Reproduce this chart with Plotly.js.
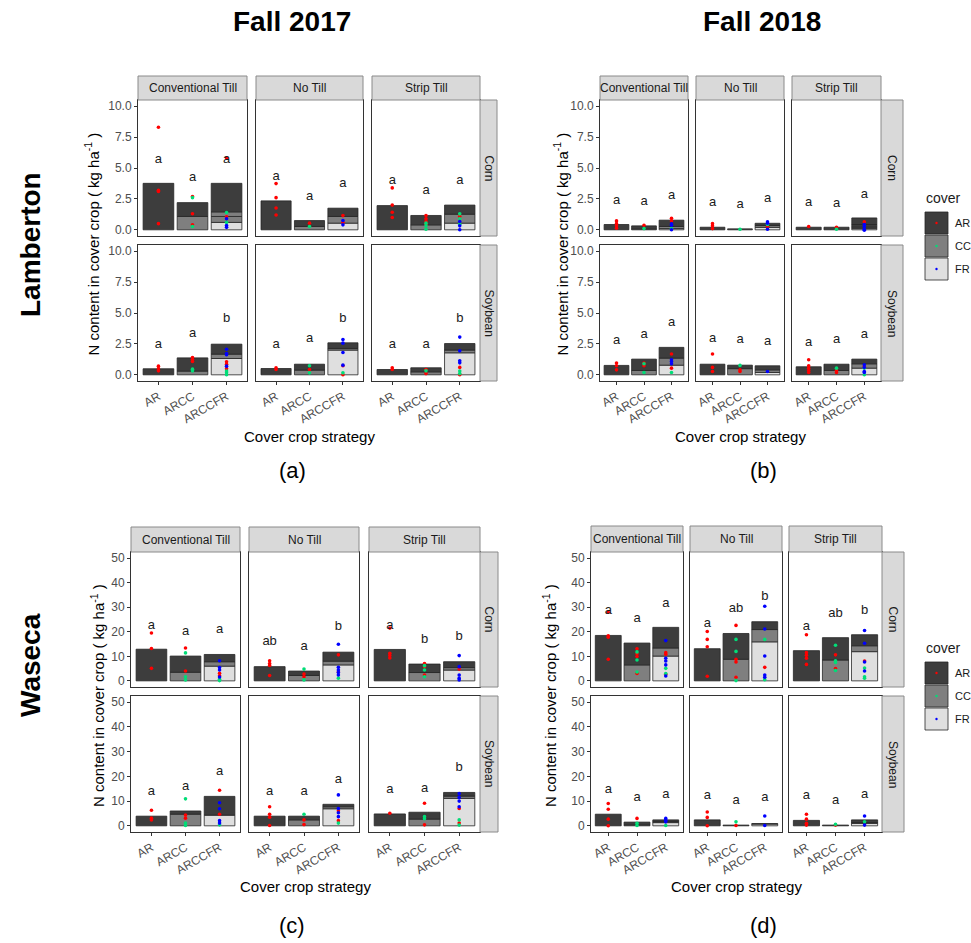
<!DOCTYPE html>
<html>
<head>
<meta charset="utf-8">
<script src="https://cdn.plot.ly/plotly-3.0.1.min.js"></script>
<style>
  html, body { margin: 0; padding: 0; background: #ffffff; }
  #chart { width: 971px; height: 943px; }
</style>
</head>
<body>
<div id="chart"></div>
<script>
// Facet factors
const tills = ['Conventional Till', 'No Till', 'Strip Till'];
const crops = ['Corn', 'Soybean'];
const strategies = ['AR', 'ARCC', 'ARCCFR'];
const covers = ['AR', 'CC', 'FR'];

// Bars: [crop][till][strategy] -> stacked segments from the ground up, [cover, N kg/ha]
const lam17Bars = [
  [
    [[['AR', 3.76]], [['CC', 1.08], ['AR', 1.12]], [['FR', 0.6], ['CC', 0.48], ['CC', 0.37], ['AR', 2.31]]],
    [[['AR', 2.34]], [['CC', 0.27], ['AR', 0.48]], [['FR', 0.54], ['CC', 0.54], ['AR', 0.67]]],
    [[['AR', 1.96]], [['CC', 0.4], ['AR', 0.76]], [['FR', 0.54], ['CC', 0.72], ['AR', 0.74]]]
  ],
  [
    [[['AR', 0.49]], [['CC', 0.3], ['AR', 1.07]], [['FR', 1.32], ['CC', 0.35], ['AR', 0.81]]],
    [[['AR', 0.51]], [['CC', 0.38], ['AR', 0.48]], [['FR', 2.0], ['CC', 0.13], ['AR', 0.46]]],
    [[['AR', 0.43]], [['CC', 0.24], ['AR', 0.33]], [['FR', 1.78], ['CC', 0.22], ['AR', 0.53]]]
  ]
];
const lam18Bars = [
  [
    [[['AR', 0.43]], [['CC', 0.08], ['AR', 0.24]], [['FR', 0.1], ['CC', 0.17], ['AR', 0.51]]],
    [[['AR', 0.21]], [['AR', 0.08]], [['FR', 0.2], ['CC', 0.15], ['AR', 0.18]]],
    [[['AR', 0.21]], [['AR', 0.21]], [['FR', 0.1], ['CC', 0.11], ['AR', 0.22], ['AR', 0.53]]]
  ],
  [
    [[['AR', 0.76]], [['CC', 0.35], ['AR', 0.92]], [['FR', 0.78], ['CC', 0.57], ['AR', 0.87]]],
    [[['AR', 0.86]], [['CC', 0.5], ['AR', 0.28]], [['FR', 0.19], ['CC', 0.21], ['AR', 0.33]]],
    [[['AR', 0.65]], [['CC', 0.35], ['AR', 0.51]], [['FR', 0.54], ['CC', 0.35], ['AR', 0.38]]]
  ]
];
const was17Bars = [
  [
    [[['AR', 12.9]], [['CC', 3.5], ['AR', 6.6]], [['FR', 6.0], ['CC', 1.8], ['AR', 2.95]]],
    [[['AR', 5.8]], [['CC', 2.2], ['AR', 1.8]], [['FR', 6.5], ['CC', 1.5], ['AR', 3.7]]],
    [[['AR', 12.8]], [['CC', 3.4], ['AR', 3.45]], [['FR', 4.4], ['CC', 1.0], ['AR', 2.4]]]
  ],
  [
    [[['AR', 3.9]], [['CC', 4.7], ['AR', 1.3]], [['FR', 4.3], ['AR', 7.6]]],
    [[['AR', 3.9]], [['CC', 2.4], ['AR', 1.5]], [['FR', 6.9], ['CC', 0.8], ['AR', 1.0]]],
    [[['AR', 4.8]], [['CC', 2.7], ['AR', 2.8]], [['FR', 11.1], ['CC', 0.9], ['AR', 1.5]]]
  ]
];
const was18Bars = [
  [
    [[['AR', 18.5]], [['CC', 6.5], ['AR', 8.9]], [['FR', 10.1], ['CC', 3.3], ['AR', 8.4]]],
    [[['AR', 13.1]], [['CC', 8.8], ['AR', 10.5]], [['FR', 15.9], ['CC', 5.0], ['AR', 3.2]]],
    [[['AR', 12.3]], [['CC', 8.5], ['AR', 9.1]], [['FR', 11.9], ['CC', 2.4], ['AR', 4.5]]]
  ],
  [
    [[['AR', 4.7]], [['CC', 0.4], ['AR', 1.1]], [['FR', 1.3], ['CC', 0.4], ['AR', 0.7]]],
    [[['AR', 2.4]], [['AR', 0.3]], [['FR', 0.7], ['AR', 0.2]]],
    [[['AR', 2.2]], [['AR', 0.3]], [['FR', 1.0], ['CC', 0.3], ['AR', 1.1]]]
  ]
];

// Plot-level observations: [crop][till][strategy] -> [cover, N kg/ha]
const lam17Points = [
  [
    [[['AR', 8.3], ['AR', 3.2], ['AR', 3.1], ['AR', 0.5]],
     [['AR', 2.7], ['CC', 2.6], ['AR', 1.3], ['AR', 0.4], ['CC', 0.27]],
     [['AR', 5.8], ['CC', 1.4], ['AR', 1.05], ['FR', 0.9], ['CC', 0.6], ['FR', 0.35], ['FR', 0.2]]],
    [[['AR', 3.74], ['AR', 2.6], ['AR', 1.77], ['AR', 1.2]],
     [['AR', 0.54], ['CC', 0.27]],
     [['AR', 1.15], ['FR', 0.75], ['AR', 0.6], ['FR', 0.4]]],
    [[['AR', 3.39], ['AR', 2.0], ['AR', 1.42], ['AR', 1.0]],
     [['AR', 1.15], ['AR', 0.9], ['AR', 0.67], ['AR', 0.45], ['CC', 0.54], ['CC', 0.32], ['CC', 0.05]],
     [['CC', 1.29], ['AR', 1.08], ['CC', 0.9], ['FR', 0.67], ['CC', 0.45], ['FR', 0.32], ['FR', 0.0]]]
  ],
  [
    [[['AR', 0.7], ['AR', 0.5], ['AR', 0.32]],
     [['AR', 1.4], ['AR', 1.24], ['AR', 1.08], ['CC', 0.46], ['CC', 0.32]],
     [['FR', 2.07], ['FR', 1.72], ['FR', 1.62], ['AR', 1.05], ['AR', 0.86], ['FR', 0.7], ['AR', 0.5], ['CC', 0.3], ['CC', 0.16], ['CC', 0.0]]],
    [[['AR', 0.57], ['AR', 0.43]],
     [['CC', 0.73], ['AR', 0.43], ['CC', 0.16]],
     [['FR', 2.86], ['FR', 2.56], ['FR', 1.8], ['FR', 0.78], ['AR', 0.73], ['CC', 0.16], ['AR', 0.0]]],
    [[['AR', 0.57], ['AR', 0.43]],
     [['AR', 0.43], ['CC', 0.32], ['AR', 0.1]],
     [['FR', 3.05], ['FR', 1.94], ['FR', 1.13], ['FR', 0.97], ['AR', 0.6], ['CC', 0.3], ['CC', 0.1], ['AR', 0.0]]]
  ]
];
const lam18Points = [
  [
    [[['AR', 0.72], ['AR', 0.5], ['AR', 0.32], ['AR', 0.13]],
     [['AR', 0.37], ['CC', 0.1]],
     [['AR', 0.94], ['AR', 0.72], ['FR', 0.48], ['FR', 0.37], ['CC', 0.1], ['FR', 0.0]]],
    [[['AR', 0.5], ['AR', 0.32], ['AR', 0.1]],
     [['CC', 0.05]],
     [['FR', 0.64], ['FR', 0.53], ['CC', 0.43], ['AR', 0.27], ['FR', 0.05]]],
    [[['AR', 0.27]],
     [['AR', 0.21], ['CC', 0.05]],
     [['AR', 0.64], ['FR', 0.43], ['FR', 0.27], ['FR', 0.05], ['FR', -0.03]]]
  ],
  [
    [[['AR', 0.95], ['AR', 0.73], ['AR', 0.4]],
     [['AR', 0.95], ['CC', 0.9], ['AR', 0.73], ['CC', 0.19]],
     [['AR', 1.68], ['FR', 1.22], ['FR', 1.08], ['FR', 0.89], ['AR', 0.54], ['CC', 0.19]]],
    [[['AR', 1.68], ['AR', 0.6], ['AR', 0.27]],
     [['CC', 0.76], ['AR', 0.4], ['AR', 0.27]],
     [['FR', 0.27]]],
    [[['AR', 1.22], ['AR', 0.73], ['AR', 0.54], ['AR', 0.35], ['AR', 0.19]],
     [['CC', 0.54], ['AR', 0.35], ['AR', 0.19]],
     [['FR', 0.81], ['AR', 0.68], ['FR', 0.59], ['CC', 0.54], ['FR', 0.27], ['FR', 0.19], ['CC', 0.0]]]
  ]
];
const was17Points = [
  [
    [[['AR', 19.5], ['AR', 13.2], ['AR', 5.1]],
     [['AR', 13.4], ['CC', 11.4], ['AR', 4.0], ['CC', 1.7], ['CC', 0.4]],
     [['FR', 8.2], ['FR', 5.4], ['FR', 4.4], ['AR', 3.1], ['AR', 2.1], ['FR', 1.6], ['CC', 0.7], ['CC', 0.1]]],
    [[['AR', 8.2], ['AR', 7.1], ['AR', 6.3], ['AR', 2.2]],
     [['CC', 4.8], ['AR', 2.8], ['AR', 1.7], ['CC', 0.4]],
     [['FR', 14.9], ['AR', 10.6], ['FR', 5.5], ['FR', 4.4], ['AR', 3.6], ['FR', 3.4], ['FR', 2.4], ['CC', 1.1]]],
    [[['AR', 21.5], ['AR', 11.2], ['AR', 10.3], ['AR', 9.3]],
     [['AR', 7.1], ['CC', 6.2], ['AR', 5.8], ['CC', 4.4], ['AR', 2.4], ['CC', 1.7]],
     [['FR', 10.3], ['FR', 5.8], ['AR', 4.8], ['FR', 2.4], ['FR', 1.1], ['FR', 0.4]]]
  ],
  [
    [[['AR', 6.3], ['AR', 3.1], ['AR', 2.4]],
     [['CC', 10.9], ['AR', 4.4], ['AR', 3.1], ['CC', 1.1], ['CC', 0.1]],
     [['AR', 14.4], ['FR', 9.3], ['FR', 6.9], ['AR', 4.7], ['FR', 2.1], ['FR', 1.1], ['CC', 0.4]]],
    [[['AR', 7.7], ['AR', 4.7], ['AR', 3.5], ['AR', 0.1]],
     [['CC', 4.7], ['AR', 2.4], ['AR', 0.5]],
     [['FR', 12.5], ['FR', 7.0], ['AR', 6.1], ['FR', 5.3], ['FR', 3.7], ['AR', 2.1], ['CC', 1.1]]],
    [[['AR', 5.1]],
     [['AR', 9.1], ['CC', 3.7], ['CC', 2.9], ['AR', 0.4]],
     [['FR', 13.0], ['FR', 11.5], ['FR', 10.0], ['FR', 7.7], ['AR', 7.0], ['CC', 2.4], ['AR', 1.1], ['CC', 0.3]]]
  ]
];
const was18Points = [
  [
    [[['AR', 28.0], ['AR', 18.4], ['AR', 17.8], ['AR', 8.8]],
     [['AR', 13.1], ['CC', 11.8], ['AR', 11.0], ['AR', 9.9], ['CC', 8.5], ['CC', 3.6], ['AR', 3.0]],
     [['FR', 16.4], ['AR', 11.5], ['AR', 10.8], ['FR', 9.2], ['FR', 8.1], ['FR', 6.5], ['CC', 5.1], ['CC', 3.0], ['AR', 2.7], ['FR', 2.0]]],
    [[['AR', 20.1], ['AR', 16.9], ['AR', 13.9], ['AR', 1.9]],
     [['AR', 22.6], ['CC', 16.9], ['CC', 12.0], ['AR', 8.8], ['AR', 7.7], ['AR', 1.5], ['CC', 0.1]],
     [['FR', 30.4], ['FR', 21.1], ['CC', 16.9], ['FR', 10.1], ['AR', 5.5], ['FR', 2.4], ['FR', 1.5], ['CC', 0.5]]],
    [[['AR', 18.8], ['AR', 11.5], ['AR', 10.4], ['AR', 9.2], ['AR', 6.7]],
     [['CC', 14.5], ['AR', 10.6], ['CC', 8.2], ['CC', 7.5], ['AR', 5.0], ['CC', 4.2]],
     [['FR', 20.5], ['FR', 15.3], ['AR', 8.1], ['FR', 7.7], ['CC', 5.2], ['FR', 4.0], ['CC', 1.7], ['CC', 1.1]]]
  ],
  [
    [[['AR', 9.0], ['AR', 6.7], ['AR', 2.7], ['AR', 0.0]],
     [['AR', 3.0], ['CC', 1.0], ['CC', 0.1]],
     [['FR', 3.0], ['FR', 2.3], ['FR', 1.6], ['CC', 0.1]]],
    [[['AR', 5.6], ['AR', 3.4], ['AR', 0.0]],
     [['CC', 1.6], ['AR', 0.1]],
     [['FR', 4.0], ['FR', 0.1]]],
    [[['AR', 4.7], ['AR', 2.7], ['AR', 1.0], ['AR', 0.3]],
     [['CC', 0.6], ['AR', 0.3]],
     [['FR', 4.0], ['CC', 1.6], ['FR', 0.3]]]
  ]
];

// Mean-separation letters: [crop][till][strategy] -> [letter, height]
const lam17Letters = [
  [[['a', 5.7], ['a', 4.2], ['a', 5.7]], [['a', 4.3], ['a', 2.7], ['a', 3.7]], [['a', 3.95], ['a', 3.17], ['a', 4.0]]],
  [[['a', 2.45], ['a', 3.34], ['b', 4.5]], [['a', 2.45], ['a', 2.88], ['b', 4.55]], [['a', 2.45], ['a', 2.45], ['b', 4.5]]]
];
const lam18Letters = [
  [[['a', 2.33], ['a', 2.27], ['a', 2.73]], [['a', 2.19], ['a', 2.0], ['a', 2.51]], [['a', 2.19], ['a', 2.14], ['a', 2.86]]],
  [[['a', 2.76], ['a', 3.22], ['a', 4.19]], [['a', 2.89], ['a', 2.84], ['a', 2.7]], [['a', 2.62], ['a', 2.84], ['a', 3.24]]]
];
const was17Letters = [
  [[['a', 22.6], ['a', 19.9], ['a', 20.8]], [['ab', 16.1], ['a', 14.1], ['b', 21.9]], [['a', 22.6], ['b', 16.8], ['b', 17.9]]],
  [[['a', 13.7], ['a', 15.7], ['a', 21.7]], [['a', 13.7], ['a', 13.7], ['a', 18.8]], [['a', 14.7], ['a', 15.1], ['b', 23.5]]]
];
const was18Letters = [
  [[['a', 28.5], ['a', 25.4], ['a', 31.5]], [['a', 23.2], ['ab', 29.5], ['b', 34.2]], [['a', 22.0], ['ab', 27.4], ['b', 28.5]]],
  [[['a', 14.6], ['a', 11.3], ['a', 12.4]], [['a', 12.1], ['a', 10.3], ['a', 11.2]], [['a', 12.1], ['a', 10.3], ['a', 12.4]]]
];

const smallTicks = [0, 2.5, 5, 7.5, 10];
const smallTickText = ['0.0', '2.5', '5.0', '7.5', '10.0'];
const bigTicks = [0, 10, 20, 30, 40, 50];
const bigTickText = ['0', '10', '20', '30', '40', '50'];

// ---- styling ----
const W = 971, H = 943;
const fillOf = { AR: '#3d3d3d', CC: '#7f7f7f', FR: '#dfdfdf' };
const dotOf = { AR: '#ff0000', CC: '#00dd77', FR: '#0000ff' };
const FONT = 'Liberation Sans, Arial, sans-serif';
const px = v => v / W;
const py = v => 1 - v / H;

// paper-positioned text, centred on (x, y) in pixels unless told otherwise
const label = (text, x, y, size, opts) => Object.assign({
  xref: 'paper', yref: 'paper', showarrow: false, x: px(x), y: py(y),
  xanchor: 'center', yanchor: 'middle', text: text,
  font: { family: FONT, size: size, color: '#1a1a1a' }
}, opts || {});

// Four site/year blocks, each a 2x3 facet grid (pixel geometry)
const blocks = [
  { bars: lam17Bars, points: lam17Points, letters: lam17Letters, ymax: 10, tv: smallTicks, tt: smallTickText,
    cols: [[138, 247], [256, 363], [372, 480]], strip: [76, 100], rows: [[100, 236], [245, 381]], rstrip: [480, 497],
    ytitleX: 92, xtitleY: 436, legendTop: null },
  { bars: lam18Bars, points: lam18Points, letters: lam18Letters, ymax: 10, tv: smallTicks, tt: smallTickText,
    cols: [[600, 688], [696, 784], [792, 881]], strip: [76, 100], rows: [[100, 236], [245, 381]], rstrip: [881, 903],
    ytitleX: 561, xtitleY: 436, legendTop: 198 },
  { bars: was17Bars, points: was17Points, letters: was17Letters, ymax: 50, tv: bigTicks, tt: bigTickText,
    cols: [[131, 240], [249, 359], [369, 480]], strip: [527, 552], rows: [[552, 687], [696, 832]], rstrip: [480, 498],
    ytitleX: 97, xtitleY: 886, legendTop: null },
  { bars: was18Bars, points: was18Points, letters: was18Letters, ymax: 50, tv: bigTicks, tt: bigTickText,
    cols: [[591, 683], [690, 782], [789, 882]], strip: [526, 552], rows: [[552, 687], [696, 832]], rstrip: [882, 904],
    ytitleX: 549, xtitleY: 886, legendTop: 648 }
];

const traces = [];
const layout = {
  width: W, height: H,
  margin: { l: 0, r: 0, t: 0, b: 0 },
  paper_bgcolor: '#ffffff', plot_bgcolor: '#ffffff',
  showlegend: false, hovermode: false,
  barmode: 'overlay', bargap: 0,
  font: { family: FONT, color: '#1a1a1a' },
  shapes: [], annotations: []
};

blocks.forEach((b, bi) => {
  const pad = b.ymax * 0.05;
  crops.forEach((crop, r) => {
    tills.forEach((till, c) => {
      const n = bi * 6 + r * 3 + c + 1;
      const xa = 'x' + (n === 1 ? '' : n), ya = 'y' + (n === 1 ? '' : n);
      const bottomRow = r === 1, leftCol = c === 0;

      layout['xaxis' + (n === 1 ? '' : n)] = {
        domain: [px(b.cols[c][0]), px(b.cols[c][1])], anchor: ya,
        type: 'category', categoryorder: 'array', categoryarray: strategies,
        range: [-0.6, 2.6], showgrid: false, zeroline: false,
        showline: true, mirror: true, linecolor: '#333333', linewidth: 1,
        ticks: bottomRow ? 'outside' : '', ticklen: 3, tickcolor: '#333333',
        showticklabels: bottomRow, tickangle: -30,
        tickfont: { family: FONT, size: 12, color: '#4d4d4d' }
      };
      layout['yaxis' + (n === 1 ? '' : n)] = {
        domain: [py(b.rows[r][1]), py(b.rows[r][0])], anchor: xa,
        range: [-pad, b.ymax + pad], showgrid: false, zeroline: false,
        showline: true, mirror: true, linecolor: '#333333', linewidth: 1,
        ticks: leftCol ? 'outside' : '', ticklen: 3, tickcolor: '#333333',
        showticklabels: leftCol, tickvals: b.tv, ticktext: b.tt,
        tickfont: { family: FONT, size: 12, color: '#4d4d4d' }
      };

      // stacked segments, one bar trace per segment
      strategies.forEach((s, si) => {
        let base = 0;
        b.bars[r][c][si].forEach(([cov, h]) => {
          traces.push({
            type: 'bar', x: [s], y: [h], base: [base], width: 0.9,
            xaxis: xa, yaxis: ya,
            marker: { color: fillOf[cov], line: { color: '#262626', width: 0.8 } }
          });
          base += h;
        });
      });

      // observations by cover
      covers.forEach(cov => {
        const xs = [], ys = [];
        strategies.forEach((s, si) => {
          b.points[r][c][si].forEach(([pc, v]) => { if (pc === cov) { xs.push(s); ys.push(v); } });
        });
        if (xs.length) traces.push({
          type: 'scatter', mode: 'markers', x: xs, y: ys, xaxis: xa, yaxis: ya,
          marker: { color: dotOf[cov], size: 3.6, line: { width: 0 } }
        });
      });

      // letters
      traces.push({
        type: 'scatter', mode: 'text', xaxis: xa, yaxis: ya,
        x: strategies, y: b.letters[r][c].map(l => l[1]), text: b.letters[r][c].map(l => l[0]),
        textposition: 'middle center', textfont: { family: FONT, size: 13, color: '#1a1a1a' },
        cliponaxis: false
      });

      // top strip (till)
      if (r === 0) {
        layout.shapes.push({ type: 'rect', xref: 'paper', yref: 'paper',
          x0: px(b.cols[c][0]), x1: px(b.cols[c][1]), y0: py(b.strip[1]), y1: py(b.strip[0]),
          fillcolor: '#d9d9d9', line: { color: '#8a8a8a', width: 1 } });
        layout.annotations.push(label(till, (b.cols[c][0] + b.cols[c][1]) / 2, (b.strip[0] + b.strip[1]) / 2, 12));
      }
      // right strip (crop)
      if (c === 2) {
        layout.shapes.push({ type: 'rect', xref: 'paper', yref: 'paper',
          x0: px(b.rstrip[0]), x1: px(b.rstrip[1]), y0: py(b.rows[r][1]), y1: py(b.rows[r][0]),
          fillcolor: '#d9d9d9', line: { color: '#8a8a8a', width: 1 } });
        layout.annotations.push(label(crop, (b.rstrip[0] + b.rstrip[1]) / 2, (b.rows[r][0] + b.rows[r][1]) / 2, 12,
          { textangle: 90 }));
      }
    });
  });

  // axis titles
  layout.annotations.push(label('N content in cover crop ( kg ha<sup>-1</sup> )',
    b.ytitleX, (b.rows[0][0] + b.rows[1][1]) / 2 + 4, 15, { textangle: -90, font: { family: FONT, size: 15, color: '#000000' } }));
  layout.annotations.push(label('Cover crop strategy', (b.cols[0][0] + b.cols[2][1]) / 2, b.xtitleY, 15,
    { font: { family: FONT, size: 15, color: '#000000' } }));

  // cover legend
  if (b.legendTop !== null) {
    const t = b.legendTop;
    layout.annotations.push(label('cover', 924, t, 14, { xanchor: 'left' }));
    covers.forEach((cov, k) => {
      const y0 = t + 14 + k * 23, y1 = y0 + 22;
      layout.shapes.push({ type: 'rect', xref: 'paper', yref: 'paper',
        x0: px(925), x1: px(948), y0: py(y1), y1: py(y0),
        fillcolor: fillOf[cov], line: { color: '#262626', width: 0.8 } });
      layout.shapes.push({ type: 'circle', xref: 'paper', yref: 'paper',
        x0: px(935.3), x1: px(937.7), y0: py((y0 + y1) / 2 + 1.2), y1: py((y0 + y1) / 2 - 1.2),
        fillcolor: dotOf[cov], line: { width: 0 } });
      layout.annotations.push(label(cov, 953, (y0 + y1) / 2, 11, { xanchor: 'left' }));
    });
  }
});

// headings and panel tags
const black = size => ({ font: { family: FONT, size: size, color: '#000000' } });
layout.annotations.push(label('<b>Fall 2017</b>', 292, 22, 28, black(28)));
layout.annotations.push(label('<b>Fall 2018</b>', 762, 22, 28, black(28)));
layout.annotations.push(label('<b>Lamberton</b>', 30, 245, 28, Object.assign({ textangle: -90 }, black(28))));
layout.annotations.push(label('<b>Waseca</b>', 30, 665, 28, Object.assign({ textangle: -90 }, black(28))));
layout.annotations.push(label('(a)', 292, 470, 22, black(22)));
layout.annotations.push(label('(b)', 763, 470, 22, black(22)));
layout.annotations.push(label('(c)', 292, 925, 22, black(22)));
layout.annotations.push(label('(d)', 763, 925, 22, black(22)));

Plotly.newPlot('chart', traces, layout, { staticPlot: true, displayModeBar: false });
</script>
</body>
</html>
